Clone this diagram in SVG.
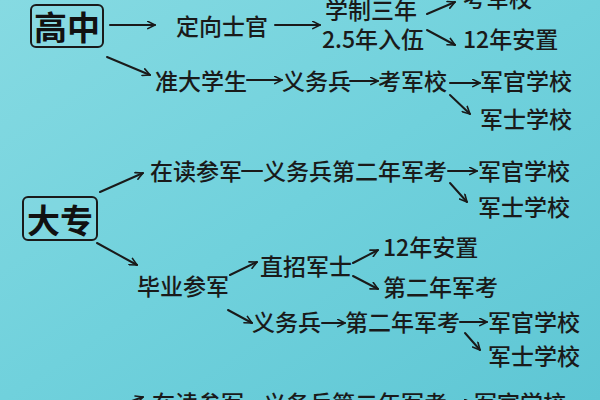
<svg xmlns="http://www.w3.org/2000/svg" width="600" height="400" viewBox="0 0 600 400">
<defs>
<linearGradient id="bg" x1="0" y1="0" x2="1" y2="1">
<stop offset="0" stop-color="#86dae2"/>
<stop offset="0.5" stop-color="#70d1dc"/>
<stop offset="1" stop-color="#5ec6d4"/>
</linearGradient>
<marker id="ah" viewBox="0 0 10 10" refX="9" refY="5" markerWidth="9" markerHeight="9" markerUnits="userSpaceOnUse" orient="auto">
<path d="M1,1 L9,5 L1,9" fill="none" stroke="#1a1a1a" stroke-width="1.8" stroke-linecap="round" stroke-linejoin="round"/>
</marker>
<style>
.t{font-family:"Noto Sans CJK SC","Noto Sans",sans-serif;font-size:23px;font-weight:500;fill:#1a1a1a}
.h{font-family:"Noto Sans CJK SC","Noto Sans",sans-serif;font-size:33px;font-weight:700;fill:#111}
.box{fill:#8fdde5;fill-opacity:0.35;stroke:#1a1a1a;stroke-width:2}
.c line{stroke:#1a1a1a;stroke-width:2;stroke-linecap:round}
.a{marker-end:url(#ah)}
</style>
</defs>
<rect width="600" height="400" fill="url(#bg)"/>

<g id="gaozhong"><rect class="box" x="31" y="5" width="72" height="42" rx="5"/><text class="h" x="67" y="40" text-anchor="middle">高中</text></g>
<g id="dingxiang"><text class="t" x="176" y="35">定向士官</text></g>
<g id="xuezhi"><text class="t" x="325" y="19">学制三年</text></g>
<g id="ruwu"><text class="t" x="322" y="48">2.5年入伍</text></g>
<g id="kaojunxiao-top"><text class="t" x="463" y="7">考军校</text></g>
<g id="anzhi-1"><text class="t" x="463" y="48">12年安置</text></g>
<g id="zhundaxuesheng"><text class="t" x="155" y="90">准大学生</text></g>
<g id="yiwubing-1"><text class="t" x="282" y="90">义务兵</text></g>
<g id="kaojunxiao-1"><text class="t" x="378" y="90">考军校</text></g>
<g id="junguan-1"><text class="t" x="480" y="90">军官学校</text></g>
<g id="junshi-1"><text class="t" x="480" y="128">军士学校</text></g>

<g id="dazhuan"><rect class="box" x="23" y="197" width="74" height="43" rx="5"/><text class="h" x="60" y="233" text-anchor="middle">大专</text></g>
<g id="zaidu-1"><text class="t" x="150" y="180">在读参军</text></g>
<g id="yiwubing-2"><text class="t" x="263" y="180">义务兵第二年军考</text></g>
<g id="junguan-2"><text class="t" x="478" y="180">军官学校</text></g>
<g id="junshi-2"><text class="t" x="478" y="216">军士学校</text></g>
<g id="biye"><text class="t" x="137" y="295">毕业参军</text></g>
<g id="zhizhao"><text class="t" x="260" y="275">直招军士</text></g>
<g id="anzhi-2"><text class="t" x="383" y="256">12年安置</text></g>
<g id="dierjun-1"><text class="t" x="383" y="296">第二年军考</text></g>
<g id="yiwubing-3"><text class="t" x="252" y="331">义务兵</text></g>
<g id="dierjun-2"><text class="t" x="345" y="331">第二年军考</text></g>
<g id="junguan-3"><text class="t" x="488" y="331">军官学校</text></g>
<g id="junshi-3"><text class="t" x="488" y="365">军士学校</text></g>
<g id="zaidu-2"><text class="t" x="152" y="412">在读参军</text></g>
<g id="yiwubing-4"><text class="t" x="263" y="412">义务兵第二年军考</text></g>
<g id="junguan-4"><text class="t" x="474" y="412">军官学校</text></g>

<g id="connectors" class="c">
<line class="a" x1="110" y1="25" x2="155" y2="25"/>
<line class="a" x1="275" y1="25" x2="320" y2="25"/>
<line class="a" x1="427" y1="14" x2="455" y2="2"/>
<line class="a" x1="427" y1="30" x2="455" y2="45"/>
<line class="a" x1="107" y1="57" x2="150" y2="75"/>
<line class="a" x1="247" y1="80" x2="282" y2="80"/>
<line class="a" x1="350" y1="81" x2="378" y2="81"/>
<line class="a" x1="450" y1="83" x2="480" y2="83"/>
<line class="a" x1="450" y1="95" x2="470" y2="114"/>

<line class="a" x1="100" y1="192" x2="143" y2="173"/>
<line x1="242" y1="171" x2="262" y2="171"/>
<line class="a" x1="448" y1="171" x2="477" y2="171"/>
<line class="a" x1="450" y1="183" x2="467" y2="202"/>
<line class="a" x1="97" y1="243" x2="137" y2="265"/>
<line class="a" x1="230" y1="275" x2="257" y2="262"/>
<line class="a" x1="353" y1="263" x2="378" y2="250"/>
<line class="a" x1="353" y1="276" x2="378" y2="289"/>
<line class="a" x1="228" y1="310" x2="252" y2="323"/>
<line class="a" x1="322" y1="323" x2="345" y2="323"/>
<line class="a" x1="460" y1="322" x2="487" y2="322"/>
<line class="a" x1="465" y1="333" x2="480" y2="350"/>
<line class="a" x1="112" y1="408" x2="143" y2="397"/>
<line x1="242" y1="403" x2="262" y2="403"/>
<line class="a" x1="452" y1="403" x2="472" y2="403"/>
</g>
</svg>
